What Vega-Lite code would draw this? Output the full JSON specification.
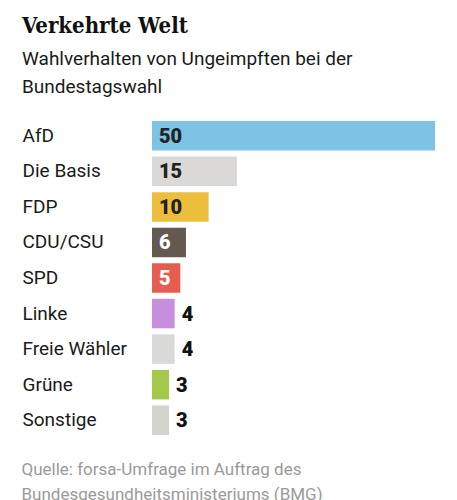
{
  "$schema": "https://vega.github.io/schema/vega-lite/v6.json",
  "width": 283,
  "height": 320,
  "autosize": {"type": "none"},
  "padding": {"left": 152, "top": 118, "right": 22, "bottom": 62},
  "background": "white",
  "config": {"view": {"stroke": null}},
  "title": {
    "text": "Verkehrte Welt",
    "subtitle": ["Wahlverhalten von Ungeimpften bei der", "Bundestagswahl"],
    "anchor": "start",
    "frame": "group",
    "dx": -130,
    "offset": 20,
    "font": "DejaVu Serif Condensed",
    "fontSize": 22,
    "fontWeight": "bold",
    "color": "#111111",
    "subtitleFont": "Roboto",
    "subtitleFontSize": 19,
    "subtitleColor": "#1a1a1a",
    "subtitleLineHeight": 28,
    "subtitlePadding": 12
  },
  "data": {
    "values": [
      {"party": "AfD", "value": 50},
      {"party": "Die Basis", "value": 15},
      {"party": "FDP", "value": 10},
      {"party": "CDU/CSU", "value": 6},
      {"party": "SPD", "value": 5},
      {"party": "Linke", "value": 4},
      {"party": "Freie Wähler", "value": 4},
      {"party": "Grüne", "value": 3},
      {"party": "Sonstige", "value": 3}
    ]
  },
  "encoding": {
    "y": {
      "field": "party",
      "type": "nominal",
      "sort": null,
      "scale": {"paddingInner": 0.17, "paddingOuter": 0.085},
      "axis": {
        "title": null,
        "domain": false,
        "ticks": false,
        "labelAlign": "left",
        "labelPadding": 130,
        "labelFont": "Roboto",
        "labelFontSize": 19,
        "labelColor": "#1a1a1a"
      }
    },
    "x": {
      "field": "value",
      "type": "quantitative",
      "scale": {"domain": [0, 50], "nice": false},
      "axis": {
        "labels": false,
        "ticks": false,
        "domain": false,
        "grid": false,
        "title": ["Quelle: forsa-Umfrage im Auftrag des", "Bundesgesundheitsministeriums (BMG)"],
        "titleX": -131,
        "titleY": 36,
        "titleAlign": "left",
        "titleAnchor": "start",
        "titleBaseline": "alphabetic",
        "titleFont": "Roboto",
        "titleFontSize": 17,
        "titleFontWeight": "normal",
        "titleColor": "#9a9a9a",
        "titleLineHeight": 25
      }
    }
  },
  "layer": [
    {
      "mark": {"type": "bar"},
      "encoding": {
        "color": {
          "field": "party",
          "type": "nominal",
          "legend": null,
          "scale": {
            "domain": ["AfD", "Die Basis", "FDP", "CDU/CSU", "SPD", "Linke", "Freie Wähler", "Grüne", "Sonstige"],
            "range": ["#7cc3e4", "#dad9d7", "#ecbe3b", "#645951", "#e65c50", "#c88ede", "#d9d9d7", "#a2c94a", "#d2d3cb"]
          }
        }
      }
    },
    {
      "transform": [{"filter": "datum.value >= 5"}],
      "mark": {"type": "text", "align": "left", "baseline": "middle", "font": "Roboto", "fontSize": 20, "fontWeight": 900, "dy": 1},
      "encoding": {
        "x": {"datum": 0},
        "xOffset": {"value": 7},
        "text": {"field": "value", "type": "quantitative"},
        "color": {"condition": {"test": "datum.value <= 6", "value": "#ffffff"}, "value": "#222222"}
      }
    },
    {
      "transform": [{"filter": "datum.value < 5"}],
      "mark": {"type": "text", "align": "left", "baseline": "middle", "dx": 7, "font": "Roboto", "fontSize": 20, "fontWeight": 900, "dy": 1},
      "encoding": {
        "text": {"field": "value", "type": "quantitative"},
        "color": {"value": "#111111"}
      }
    }
  ]
}
